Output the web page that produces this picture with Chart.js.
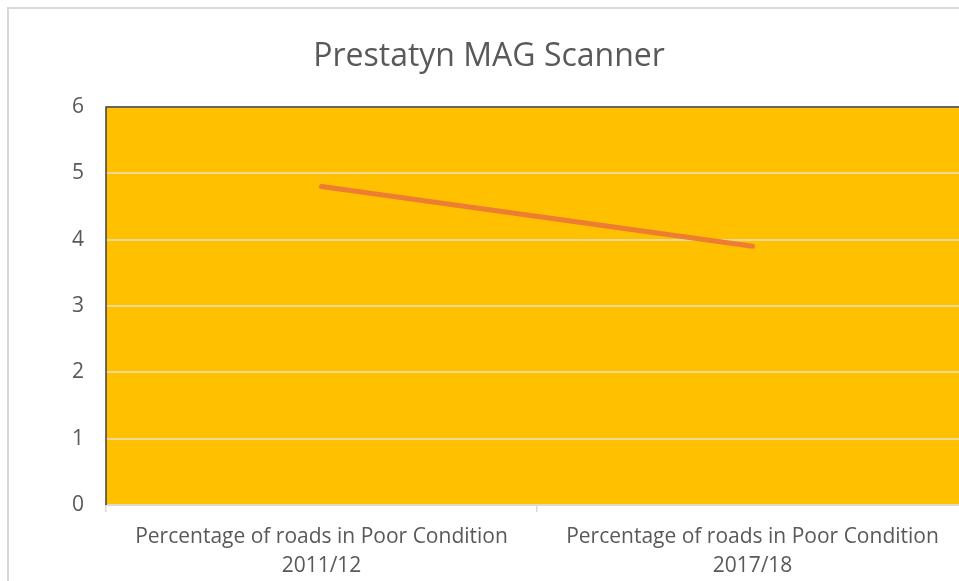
<!DOCTYPE html>
<html>
<head>
<meta charset="utf-8">
<script src="https://cdn.jsdelivr.net/npm/chart.js@4"></script>
<style>
  html, body { margin: 0; padding: 0; background: #fff; overflow: hidden; }
  #frame {
    position: absolute; left: 7px; top: 7px;
    width: 1000px; height: 620px;
    border: 2px solid #d9d9d9;
  }
  #chart { position: absolute; left: 0; top: 0; }
</style>
</head>
<body>
<div id="frame"></div>
<canvas id="chart" width="980" height="581"></canvas>
<script>
const categories = [
  ['Percentage of roads in Poor Condition', '2011/12'],
  ['Percentage of roads in Poor Condition', '2017/18'],
];
const poorCondition = [4.8, 3.9];
const yTicks = [0, 1, 2, 3, 4, 5, 6];

const TEXT = '#595959';
const FONT = "'Open Sans', sans-serif";

// orange plot background + dark frame along top/left, like the spreadsheet original
const plotArea = {
  id: 'plotArea',
  beforeDraw(chart) {
    const { ctx, chartArea: a } = chart;
    ctx.save();
    ctx.fillStyle = '#FFC000';
    ctx.fillRect(a.left, a.top, a.right - a.left, a.bottom - a.top);
    ctx.restore();
  },
  afterDatasetsDraw(chart) {
    const { ctx, chartArea: a } = chart;
    ctx.save();
    ctx.strokeStyle = '#3f3f3f';
    ctx.lineWidth = 1.5;
    ctx.beginPath();
    ctx.moveTo(a.left, a.bottom);
    ctx.lineTo(a.left, a.top);
    ctx.lineTo(a.right, a.top);
    ctx.stroke();
    ctx.restore();
  },
};

new Chart(document.getElementById('chart'), {
  type: 'line',
  data: {
    labels: categories,
    datasets: [{
      label: 'Prestatyn',
      data: poorCondition,
      borderColor: '#ED7D31',
      borderWidth: 5,
      borderCapStyle: 'round',
      pointRadius: 0,
      tension: 0,
    }],
  },
  options: {
    responsive: false,
    animation: false,
    layout: { padding: { left: 10, right: 12, top: 0, bottom: 0 } },
    scales: {
      x: {
        offset: true,
        grid: {
          offset: true,
          drawOnChartArea: false,
          drawTicks: true,
          tickLength: 7,
          color: '#d9d9d9',
          lineWidth: 1.5,
        },
        border: { color: '#d9d9d9', width: 1.5 },
        ticks: {
          color: TEXT,
          font: { family: FONT, size: 21, lineHeight: 1.4 },
          padding: 10,
          maxRotation: 0,
          autoSkip: false,
        },
        afterFit(scale) { scale.height = 76; },
      },
      y: {
        min: 0,
        max: 6,
        afterBuildTicks(scale) { scale.ticks = yTicks.map(v => ({ value: v })); },
        grid: {
          drawTicks: false,
          color: '#f0da96',
          lineWidth: 2,
        },
        border: { display: false },
        ticks: {
          color: TEXT,
          font: { family: FONT, size: 21 },
          padding: 22,
        },
        afterFit(scale) { scale.width = 96; },
      },
    },
    plugins: {
      legend: { display: false },
      tooltip: { enabled: false },
      title: {
        display: true,
        text: 'Prestatyn MAG Scanner',
        color: TEXT,
        font: { family: FONT, size: 32, weight: 'normal', lineHeight: 1.2 },
        padding: { top: 38, bottom: 30.6 },
      },
    },
  },
  plugins: [plotArea],
});
</script>
</body>
</html>
